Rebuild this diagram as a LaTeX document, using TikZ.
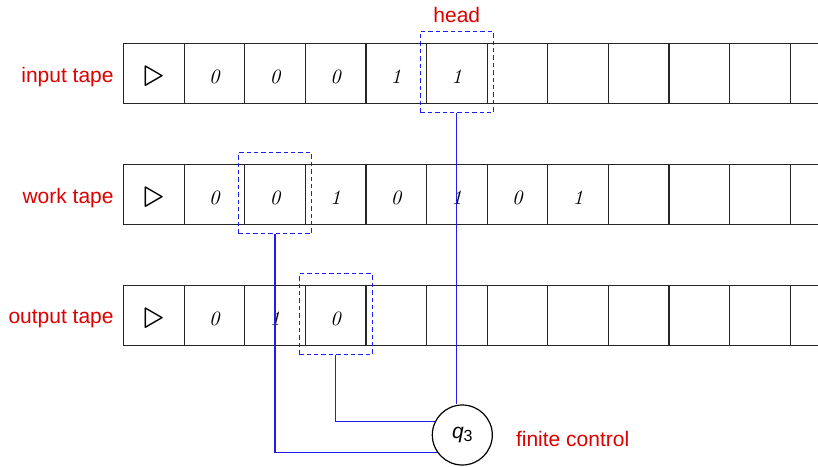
\documentclass[tikz,border=0pt]{standalone}
\usepackage{fontspec}
\newfontfamily\lblfont{Liberation Sans}
\usetikzlibrary{calc}
\definecolor{lblred}{RGB}{221,0,0}
\definecolor{headblue}{RGB}{30,30,235}
\newcommand\trimark{\raisebox{-1.4pt}{\fontsize{20}{20}\selectfont$\triangleright$}}
\begin{document}
\begin{tikzpicture}[x=0.5pt,y=-0.5pt,
  cell/.style={draw=black!85, line width=0.6pt, minimum width=30.3pt, minimum height=30pt,
    inner sep=0pt, outer sep=0pt, font=\fontsize{10.2}{10}\selectfont\itshape,
    text height=9.9pt, text depth=0pt},
  headbox/.style={draw=headblue, dash pattern=on 2.2pt off 1.5pt, line width=0.6pt,
    minimum width=36.5pt, minimum height=40.5pt, inner sep=0pt},
  lbl/.style={text=lblred, font=\lblfont\fontsize{10.5}{12}\selectfont, inner sep=0pt},
  link/.style={draw=headblue, line width=0.6pt},
  ctrl/.style={circle, draw=black, line width=0.6pt, minimum size=30pt, inner sep=0pt, fill=white}
]
\clip (0,0) rectangle (818,466);
% tapes
\foreach \s [count=\k from 0] in {\trimark,0,0,0,1,1,{},{},{},{},{},{},{}}
  \node[cell] (i\k) at (153.8+60.6*\k,73.5) {\s};
\foreach \s [count=\k from 0] in {\trimark,0,0,1,0,1,0,1,{},{},{},{},{}}
  \node[cell] (w\k) at (153.8+60.6*\k,194.7) {\s};
\foreach \s [count=\k from 0] in {\trimark,0,1,0,{},{},{},{},{},{},{},{},{}}
  \node[cell] (o\k) at (153.8+60.6*\k,315.7) {\s};
% labels
\node[lbl, anchor=base east] (lin) at ($(i0.west)+(-9.5,9.2)$) {input tape};
\node[lbl, anchor=base east] (lwk) at ($(w0.west)+(-9.5,8.6)$) {work tape};
\node[lbl, anchor=base east] (lout) at ($(o0.west)+(-9.5,7.6)$) {output tape};
% heads
\node[headbox] (ih) at ($(i5)+(0,-1.5)$) {};
\node[headbox] (wh) at ($(w2)+(0,-1.5)$) {};
\node[headbox] (oh) at ($(o3)+(0,-1.5)$) {};
\node[lbl, anchor=base] (hl) at ($(ih.north)+(0,-8.2)$) {head};
% finite control
\node[ctrl] (c) at (462.3,435) {{\lblfont\fontsize{10.5}{12}\selectfont\itshape q\/}\raisebox{-0.35ex}{\lblfont\fontsize{8}{8}\selectfont 3}};
\node[lbl, anchor=base west] (fc) at ($(c.east)+(22.7,11)$) {finite control};
% links
\draw[link] (ih.south) -- (ih.south |- c.north);
\draw[link] (wh.south) |- (c.215);
\draw[link] (oh.south) |- (c.154);
\end{tikzpicture}
\end{document}
